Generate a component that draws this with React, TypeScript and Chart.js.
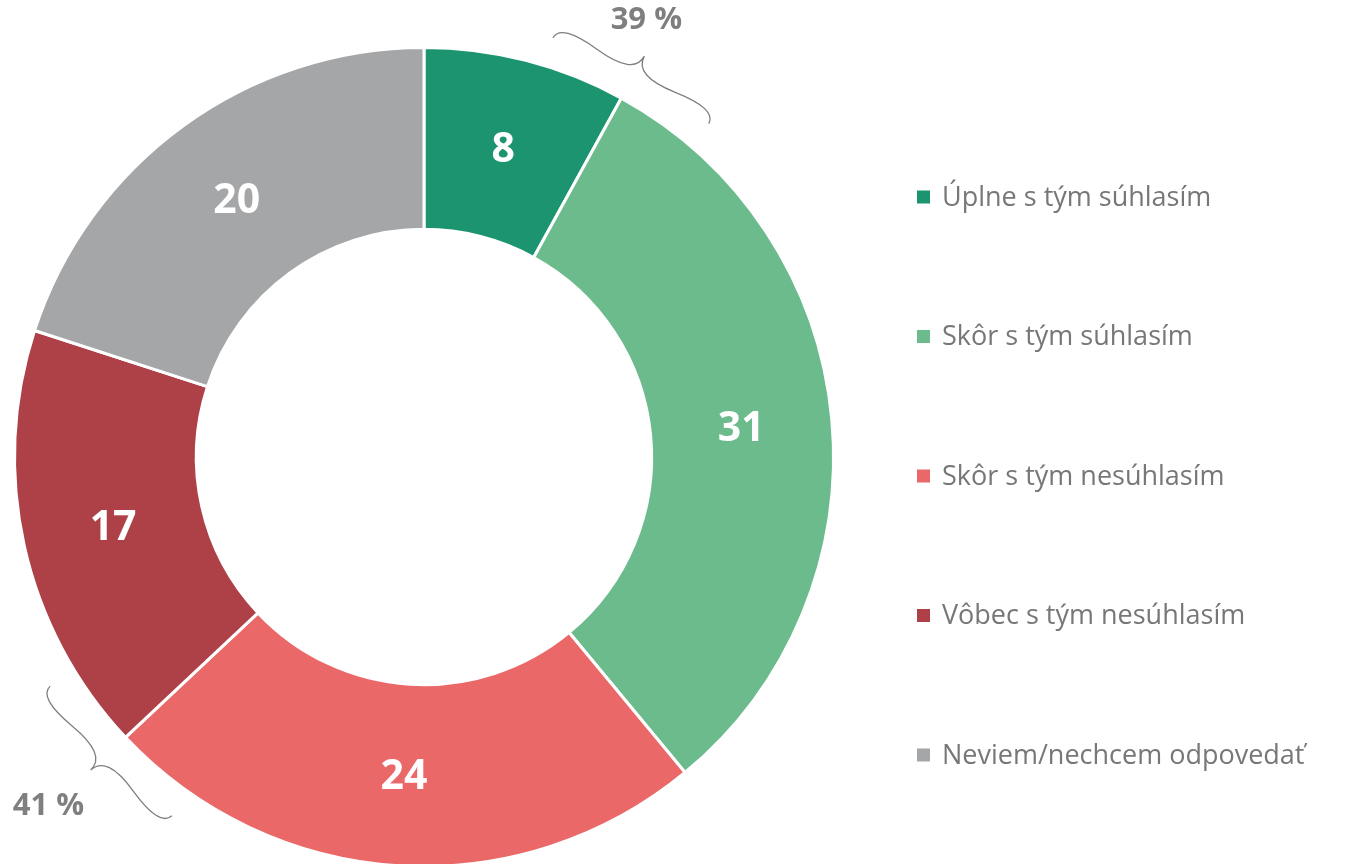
import React, { useEffect, useRef } from "react";
import { Chart, registerables } from "chart.js";

Chart.register(...registerables);

const categories = [
  "Úplne s tým súhlasím",
  "Skôr s tým súhlasím",
  "Skôr s tým nesúhlasím",
  "Vôbec s tým nesúhlasím",
  "Neviem/nechcem odpovedať",
];
const values = [8, 31, 24, 17, 20];
const colors = ["#1B946F", "#6CBB8D", "#EA6868", "#AE4048", "#A5A6A8"];
// groups of segments marked with a brace and their summed share
const braceGroups = [
  [0, 1],
  [2, 3],
];

const FONT = "'Open Sans', 'Noto Sans', sans-serif";

const overlayPlugin = {
  id: "overlay",
  afterDatasetsDraw(chart: any) {
    const ctx = chart.ctx as CanvasRenderingContext2D;
    const meta = chart.getDatasetMeta(0);
    const arcs = meta.data as any[];
    // value labels
    ctx.save();
    ctx.fillStyle = "#FFFFFF";
    ctx.font = `bold 41px ${FONT}`;
    ctx.textAlign = "center";
    ctx.textBaseline = "middle";
    arcs.forEach((arc, i) => {
      const p = arc.tooltipPosition();
      ctx.fillText(String(values[i]), p.x, p.y + 2);
    });
    ctx.restore();

    // braces
    const textOffsets = [
      [2, -36],
      [-42, 36],
    ];
    braceGroups.forEach((g, gi) => {
      const first = arcs[g[0]];
      const cx = first.x;
      const cy = first.y;
      const outer = first.outerRadius;
      const ang = first.endAngle;
      const half = (11.7 * Math.PI) / 180;
      const rEnd = outer + 29;
      const ax = cx + rEnd * Math.cos(ang - half);
      const ay = cy + rEnd * Math.sin(ang - half);
      const bx = cx + rEnd * Math.cos(ang + half);
      const by = cy + rEnd * Math.sin(ang + half);
      const nx = Math.cos(ang);
      const ny = Math.sin(ang);
      const w = 28;
      const q = 0.6;
      const mx = (ax + bx) / 2;
      const my = (ay + by) / 2;
      const tx = mx + nx * w;
      const ty = my + ny * w;
      ctx.save();
      ctx.strokeStyle = "#7F7F7F";
      ctx.lineWidth = 1.3;
      ctx.beginPath();
      const half1 = (sx: number, sy: number, ex: number, ey: number) => {
        const c1x = sx + nx * q * w;
        const c1y = sy + ny * q * w;
        const p1x = sx + (ex - sx) * 0.5 + nx * (1 - q) * w;
        const p1y = sy + (ey - sy) * 0.5 + ny * (1 - q) * w;
        const c2x = 2 * p1x - c1x;
        const c2y = 2 * p1y - c1y;
        ctx.moveTo(sx, sy);
        ctx.quadraticCurveTo(c1x, c1y, p1x, p1y);
        ctx.quadraticCurveTo(c2x, c2y, tx, ty);
      };
      half1(ax, ay, mx, my);
      half1(bx, by, mx, my);
      ctx.stroke();
      const sum = g.reduce((s, i) => s + values[i], 0);
      ctx.fillStyle = "#7F7F7F";
      ctx.font = `bold 31px ${FONT}`;
      ctx.textAlign = "center";
      ctx.textBaseline = "middle";
      ctx.fillText(`${sum} %`, tx + textOffsets[gi][0], ty + textOffsets[gi][1]);
      ctx.restore();
    });

    // legend
    ctx.save();
    ctx.font = `27px ${FONT}`;
    ctx.textBaseline = "middle";
    ctx.textAlign = "left";
    categories.forEach((c, i) => {
      const y = 197 + i * 139.5;
      ctx.fillStyle = colors[i];
      ctx.fillRect(917, y - 6.5, 13, 13);
      ctx.fillStyle = "#777777";
      ctx.fillText(c, 942, y + 1);
    });
    ctx.restore();
  },
};

export default function App() {
  const ref = useRef<HTMLCanvasElement | null>(null);
  useEffect(() => {
    if (!ref.current) return;
    const chart = new Chart(ref.current, {
      type: "doughnut",
      data: {
        labels: categories,
        datasets: [
          {
            data: values,
            backgroundColor: colors,
            borderColor: "#FFFFFF",
            borderWidth: 3,
          },
        ],
      },
      options: {
        responsive: false,
        animation: false,
        cutout: "55.6%",
        layout: { padding: { left: 13, top: 46, right: 512, bottom: 0 } },
        plugins: {
          legend: { display: false },
          tooltip: { enabled: false },
        },
      },
      plugins: [overlayPlugin],
    });
    return () => chart.destroy();
  }, []);
  return (
    <div
      style={{
        position: "fixed",
        left: 0,
        top: 0,
        width: 1347,
        height: 864,
        overflow: "hidden",
        background: "#FFFFFF",
      }}
    >
      <canvas ref={ref} width={1347} height={868} style={{ display: "block" }} />
    </div>
  );
}
